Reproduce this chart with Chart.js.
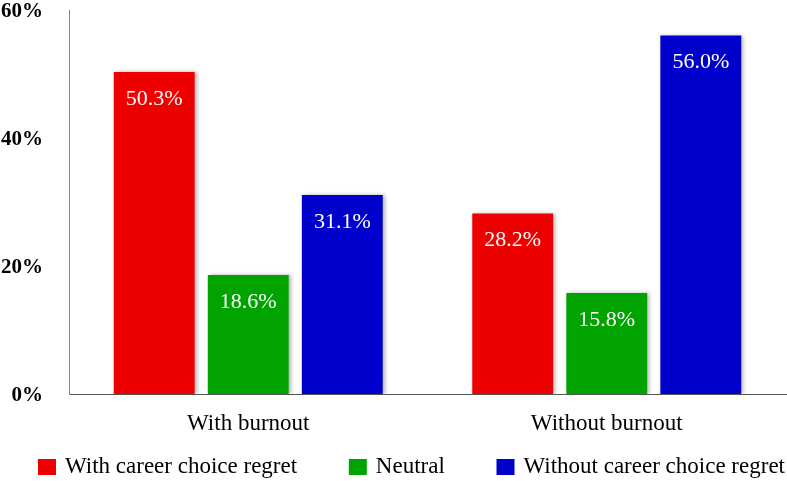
<!DOCTYPE html>
<html lang="en">
<head>
  <meta charset="UTF-8" />
  <title>Burnout and career choice regret</title>
  <script src="https://cdn.jsdelivr.net/npm/chart.js"></script>
  <style>
    html,body{margin:0;padding:0;background:#fff}
    #wrap{width:787px;height:481px}
  </style>
</head>
<body>
  <div id="wrap"><canvas id="chart" width="787" height="481"></canvas></div>

  <script>
  const groups = ['With burnout', 'Without burnout'];
  const seriesNames = ['With career choice regret', 'Neutral', 'Without career choice regret'];
  const regretYes = [50.3, 28.2];
  const neutral = [18.6, 15.8];
  const regretNo = [31.1, 56.0];
  const yTicks = [0, 20, 40, 60];
  const colors = ['#ee0000', '#00a300', '#0000cc'];

  const serif = '"Liberation Serif","Times New Roman",serif';

  // white value labels just under each bar top
  const valueLabels = {
    id: 'valueLabels',
    afterDatasetsDraw(chart) {
      const ctx = chart.ctx;
      ctx.save();
      ctx.font = '22px ' + serif;
      ctx.fillStyle = '#fff';
      ctx.textAlign = 'center';
      ctx.textBaseline = 'middle';
      chart.data.datasets.forEach((ds, i) => {
        chart.getDatasetMeta(i).data.forEach((bar, j) => {
          ctx.fillText(ds.data[j].toFixed(1) + '%', bar.x, bar.y + 27);
        });
      });
      ctx.restore();
    }
  };

  // soft shadow behind bars
  const barShadow = {
    id: 'barShadow',
    beforeDatasetsDraw(chart) {
      const ctx = chart.ctx;
      ctx.save();
      ctx.shadowColor = 'rgba(0,0,0,0.3)';
      ctx.shadowBlur = 4;
      ctx.shadowOffsetX = 2;
      ctx.shadowOffsetY = 0;
    },
    afterDatasetsDraw(chart) {
      chart.ctx.restore();
    }
  };

  // legend row along the bottom, spread between left and right edges
  const bottomLegend = {
    id: 'bottomLegend',
    afterDraw(chart) {
      const ctx = chart.ctx;
      ctx.save();
      ctx.font = '23px ' + serif;
      ctx.textBaseline = 'middle';
      const box = 18, boxH = 16, gapText = 9;
      const widths = seriesNames.map(n => box + gapText + ctx.measureText(n).width);
      const left = 38, right = 785;
      const gap = (right - left - widths.reduce((a, b) => a + b, 0)) / (widths.length - 1);
      const yMid = 467;
      let x = left;
      chart.data.datasets.forEach((ds, i) => {
        ctx.fillStyle = ds.backgroundColor;
        ctx.fillRect(x, yMid - boxH / 2, box, boxH);
        ctx.fillStyle = '#000';
        ctx.fillText(ds.label, x + box + gapText, yMid);
        x += widths[i] + gap;
      });
      ctx.restore();
    }
  };

  new Chart(document.getElementById('chart'), {
    type: 'bar',
    data: {
      labels: groups,
      datasets: [
        {label: seriesNames[0], data: regretYes, backgroundColor: colors[0]},
        {label: seriesNames[1], data: neutral, backgroundColor: colors[1]},
        {label: seriesNames[2], data: regretNo, backgroundColor: colors[2]}
      ]
    },
    options: {
      responsive: false,
      animation: false,
      categoryPercentage: 0.787,
      barPercentage: 0.86,
      layout: {autoPadding: false, padding: {top: 10, right: 1, left: 0, bottom: 42}},
      plugins: {
        legend: {display: false},
        tooltip: {enabled: false}
      },
      scales: {
        x: {
          grid: {display: false, drawTicks: false},
          border: {color: '#555', width: 1},
          ticks: {color: '#000', font: {family: serif, size: 23}, padding: 16},
          afterFit: s => { s.height = 45; }
        },
        y: {
          min: 0,
          max: 60,
          afterBuildTicks: s => { s.ticks = yTicks.map(v => ({value: v})); },
          grid: {display: false, drawTicks: false},
          border: {color: '#888', width: 1},
          ticks: {
            color: '#000',
            font: {family: serif, size: 21, weight: 'bold'},
            padding: 26,
            labelOffset: 2,
            callback: v => v + '%'
          },
          afterFit: s => { s.width = 69; s.paddingTop = 0; }
        }
      }
    },
    plugins: [barShadow, valueLabels, bottomLegend]
  });
  </script>
</body>
</html>
